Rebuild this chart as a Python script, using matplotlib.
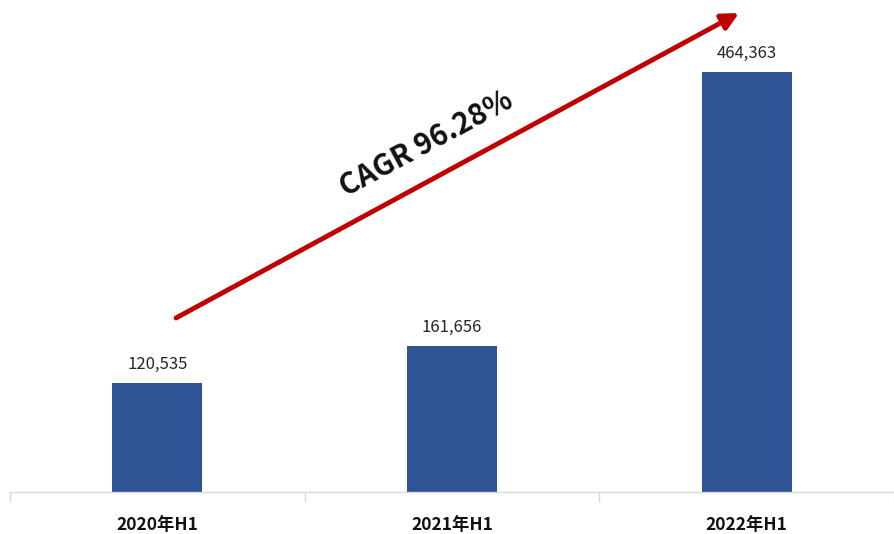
import numpy as np
import matplotlib
matplotlib.use("Agg")
import matplotlib.pyplot as plt

plt.rcParams["font.family"] = ["Noto Sans CJK SC", "DejaVu Sans"]

PERIODS = ["2020年H1", "2021年H1", "2022年H1"]
VALUES  = [120535, 161656, 464363]
CAGR    = "CAGR 96.28%"

BAR_COLOR   = "#2F5496"
ARROW_COLOR = "#C00000"
AXIS_COLOR  = "#D9D9D9"

W, H = 894, 534
fig = plt.figure(figsize=(W / 100, H / 100), dpi=100)

# axes box in pixel terms: baseline at y=492, left edge of first category at x=10
left_px, right_px, base_px, top_px = 10, 894, 492, 10
ax = fig.add_axes([left_px / W, (H - base_px) / H,
                   (right_px - left_px) / W, (base_px - top_px) / H])

x = np.arange(len(PERIODS))
ax.bar(x, VALUES, width=0.305, color=BAR_COLOR, zorder=2)

for xi, v in zip(x, VALUES):
    ax.annotate(f"{v:,}", (xi, v), xytext=(0, 7), textcoords="offset points",
                ha="center", va="bottom", fontsize=12, color="#262626")

cat_px = 299
ax.set_xlim(-0.5, -0.5 + (right_px - left_px) / cat_px)
ymax = max(VALUES) * (base_px - top_px) / 420
ax.set_ylim(0, ymax)

ax.set_xticks(x)
ax.set_xticklabels(PERIODS, fontsize=12.5, fontweight="bold", color="#111111")
ax.tick_params(axis="x", which="major", length=0, pad=17)
ax.set_xticks(np.arange(-0.5, len(PERIODS)), minor=True)
ax.tick_params(axis="x", which="minor", length=7, color=AXIS_COLOR, width=1)
ax.set_yticks([])

for side in ["top", "right", "left"]:
    ax.spines[side].set_visible(False)
ax.spines["bottom"].set_color(AXIS_COLOR)
ax.spines["bottom"].set_linewidth(1)

# growth arrow across the bars
tail = ((176 - left_px) / (right_px - left_px), (base_px - 318) / (base_px - top_px))
head = ((739 - left_px) / (right_px - left_px), (base_px - 13) / (base_px - top_px))
ax.annotate("", xy=head, xytext=tail, xycoords="axes fraction",
            textcoords="axes fraction",
            arrowprops=dict(arrowstyle="-|>", color=ARROW_COLOR, lw=3.5,
                            mutation_scale=25, shrinkA=0, shrinkB=0),
            annotation_clip=False)

ax.text((426 - left_px) / (right_px - left_px), (base_px - 144) / (base_px - top_px),
        CAGR, transform=ax.transAxes, rotation=28.3, rotation_mode="anchor",
        ha="center", va="center", fontsize=21, fontweight="bold", color="#111111")

fig.savefig("out.png", dpi=100)
